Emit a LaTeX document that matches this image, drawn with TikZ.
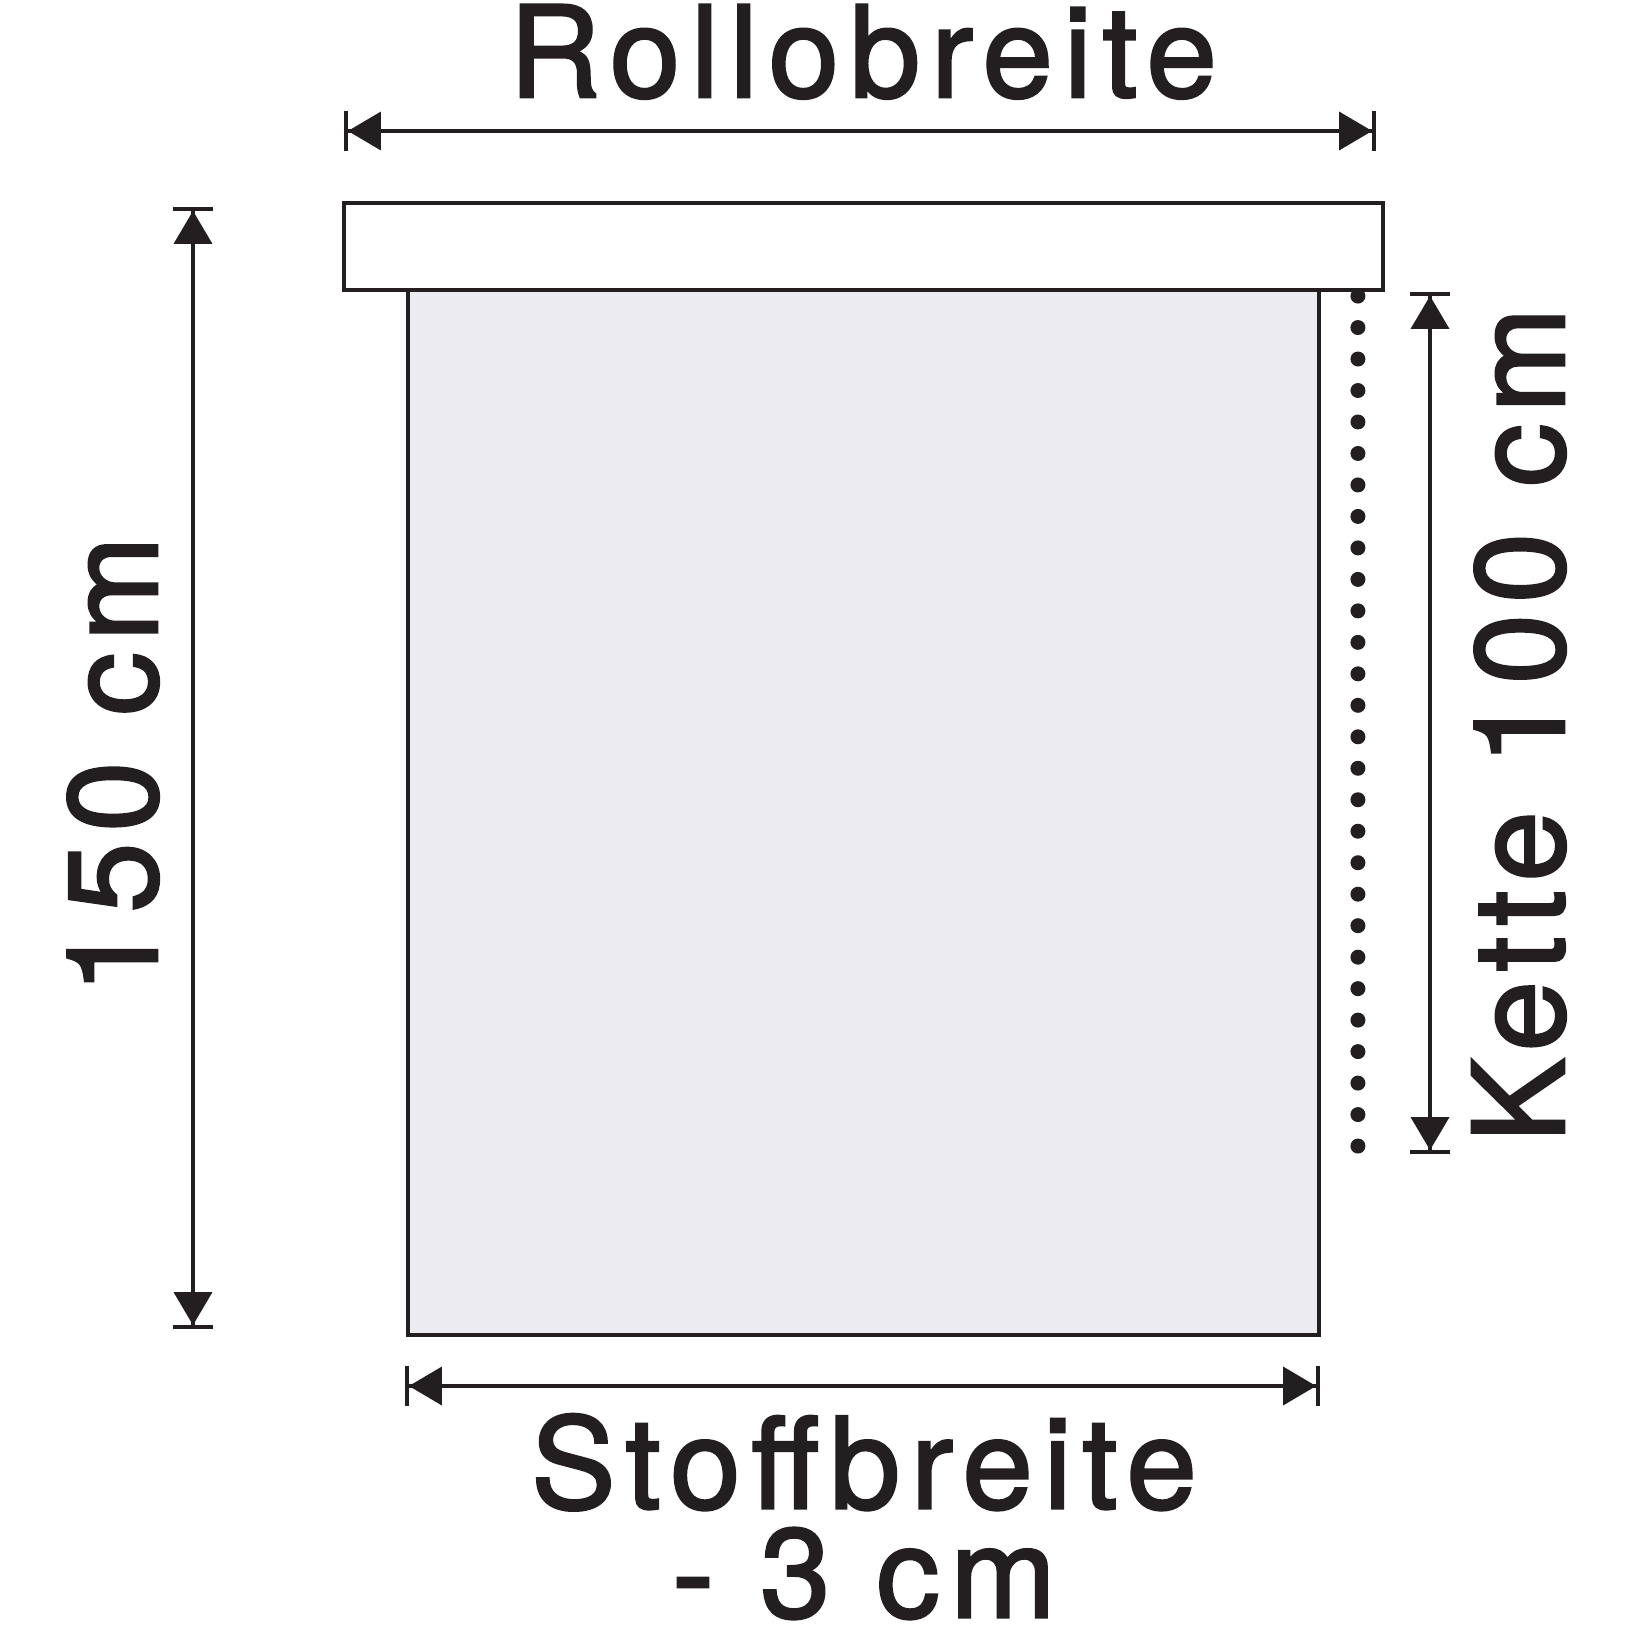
\documentclass[tikz,border=0pt]{standalone}
\usepackage{fontspec}
\setmainfont{TeX Gyre Heros}
\newfontfamily\dimfont[LetterSpace=8.5, FakeBold=2]{TeX Gyre Heros}
\usepackage{tikz}
\usetikzlibrary{arrows.meta, positioning, calc}
\definecolor{fabricgray}{HTML}{ECEBEF}
\definecolor{inkblack}{HTML}{231F20}

\begin{document}
\begin{tikzpicture}[
    line width=1.1pt,
    color=inkblack,
    dimlabel/.style={font=\dimfont\fontsize{36}{31}\selectfont, text=inkblack,
                     inner sep=0pt, anchor=base, align=center},
    header/.style={draw=inkblack, fill=white, minimum width=10.39cm, minimum height=0.87cm,
                   inner sep=0pt},
    fabric/.style={draw=inkblack, fill=fabricgray, minimum width=9.11cm, minimum height=10.45cm,
                   inner sep=0pt},
    dimarrow/.style={{Bar[width=11.4pt]Triangle[length=9.4pt, width=10.8pt]}-{Triangle[length=9.4pt, width=10.8pt]Bar[width=11.4pt]}},
    bead/.style={fill=inkblack, draw=none}
]
\useasboundingbox (0,0) rectangle (16.37,-16.37);

% ================= Roller blind =================
\node[fabric] (cloth) at (8.635,-8.125) {};
\node[header] (roller) at (8.635,-2.465) {};

% chain beads
\foreach \k in {0,...,27}
    \fill[bead] ($(cloth.north east)+(0.37,-0.08-0.3148*\k)$) circle (0.075);

% ================= Dimension lines =================
\coordinate (rolL) at (3.44,-1.31);
\coordinate (rolR) at (13.76,-1.31);
\coordinate (stoffL) at (4.05,-13.86);
\coordinate (stoffR) at (13.20,-13.86);
\coordinate (hTop) at (1.93,-2.07);
\coordinate (hBot) at (1.93,-13.29);
\coordinate (kTop) at (14.30,-2.92);
\coordinate (kBot) at (14.30,-11.54);

\draw[dimarrow] (rolL) -- (rolR);
\draw[dimarrow] (stoffL) -- (stoffR);
\draw[dimarrow] (hTop) -- (hBot);
\draw[dimarrow] (kTop) -- (kBot);

% ================= Labels =================
\node[dimlabel] (rolloLbl) at (8.63,-0.97) {Rollobreite};
\node[dimlabel, anchor=north] (stoffLbl) at (8.64,-14.12) {Stoffbreite\\- 3 cm};
\node[dimlabel, rotate=90] (heightLbl) at (1.57,-7.65) {150 cm};
\node[dimlabel, rotate=90] (ketteLbl) at (15.64,-7.25) {Kette 100 cm};

\end{tikzpicture}
\end{document}
